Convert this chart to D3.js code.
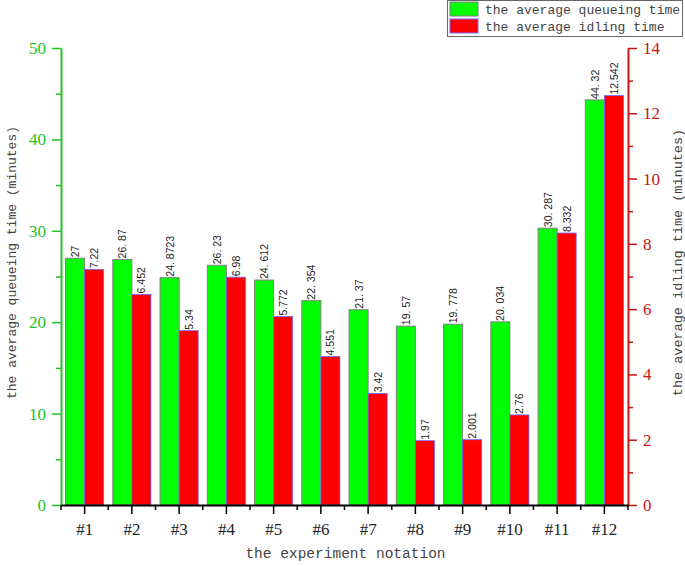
<!DOCTYPE html>
<html>
<head>
<meta charset="utf-8">
<script src="https://cdn.jsdelivr.net/npm/d3@7.9.0/dist/d3.min.js"></script>
<style>
  body { margin: 0; background: #fff; }
  svg { display: block; }
</style>
</head>
<body>
<svg width="685" height="566"></svg>
<script>
const experiments = ['#1','#2','#3','#4','#5','#6','#7','#8','#9','#10','#11','#12'];
const queueing = [27, 26.87, 24.8723, 26.23, 24.612, 22.354, 21.37, 19.57, 19.778, 20.034, 30.287, 44.32];
const idling = [7.22, 6.452, 5.34, 6.98, 5.772, 4.551, 3.42, 1.97, 2.001, 2.76, 8.332, 12.542];
const leftTicks = [0, 10, 20, 30, 40, 50];
const rightTicks = [0, 2, 4, 6, 8, 10, 12, 14];

const mono = '"Liberation Mono", "DejaVu Sans Mono", monospace';
const serif = '"Liberation Serif", "DejaVu Serif", serif';
const green = '#22c322', red = '#c81414';

const svg = d3.select('svg');
const plotL = 61, plotR = 628, plotT = 48, plotB = 505;

const x = d3.scaleBand().domain(experiments).range([plotL, plotR]).paddingInner(0).paddingOuter(0);
const xs = d3.scaleBand().domain(['q', 'i']).range([0, x.bandwidth()]).paddingInner(0).paddingOuter(0.24);
const yL = d3.scaleLinear().domain([0, 50]).range([plotB, plotT]);
const yR = d3.scaleLinear().domain([0, 14]).range([plotB, plotT]);

// bars
const g = svg.append('g');
experiments.forEach((e, i) => {
  const x0 = x(e);
  g.append('rect')
    .attr('x', x0 + xs('q')).attr('y', yL(queueing[i]))
    .attr('width', xs.bandwidth()).attr('height', plotB - yL(queueing[i]))
    .attr('fill', '#00ff00').attr('stroke', '#808080').attr('stroke-width', 1);
  g.append('rect')
    .attr('x', x0 + xs('i')).attr('y', yR(idling[i]))
    .attr('width', xs.bandwidth()).attr('height', plotB - yR(idling[i]))
    .attr('fill', '#ff0000').attr('stroke', '#6a6aff').attr('stroke-width', 0.8);

  const cq = x0 + xs('q') + xs.bandwidth() / 2;
  const ci = x0 + xs('i') + xs.bandwidth() / 2;
  g.append('text')
    .attr('transform', `translate(${cq + 4},${yL(queueing[i]) - 1}) rotate(-90)`)
    .attr('font-family', '"Liberation Sans Narrow", "Liberation Sans", Arial, sans-serif').attr('font-size', 10.5)
    .attr('fill', '#222')
    .text(String(queueing[i]).replace('.', '. '));
  g.append('text')
    .attr('transform', `translate(${ci + 4},${yR(idling[i]) - 1}) rotate(-90)`)
    .attr('font-family', '"Liberation Sans Narrow", "Liberation Sans", Arial, sans-serif').attr('font-size', 10.5)
    .attr('fill', '#222')
    .text(String(idling[i]));
});

// left axis
const minorL = d3.range(5, 50, 10);
svg.append('g').attr('transform', `translate(${plotL},0)`)
  .call(d3.axisLeft(yL).tickValues(minorL).tickSize(5).tickFormat(''))
  .call(a => a.select('.domain').remove())
  .selectAll('line').attr('stroke', green).attr('stroke-width', 1.5);
const axL = svg.append('g').attr('transform', `translate(${plotL},0)`)
  .call(d3.axisLeft(yL).tickValues(leftTicks).tickSize(9).tickSizeOuter(0).tickPadding(6));
axL.select('.domain').attr('stroke', green).attr('stroke-width', 2);
axL.selectAll('line').attr('stroke', green).attr('stroke-width', 1.5);
axL.selectAll('text').attr('fill', green).attr('font-family', serif).attr('font-size', 17);

// right axis
const minorR = d3.range(1, 14, 2);
svg.append('g').attr('transform', `translate(${plotR},0)`)
  .call(d3.axisRight(yR).tickValues(minorR).tickSize(5).tickFormat(''))
  .call(a => a.select('.domain').remove())
  .selectAll('line').attr('stroke', red).attr('stroke-width', 1.5);
const axR = svg.append('g').attr('transform', `translate(${plotR},0)`)
  .call(d3.axisRight(yR).tickValues(rightTicks).tickSize(9).tickSizeOuter(0).tickPadding(6));
axR.select('.domain').attr('stroke', red).attr('stroke-width', 2);
axR.selectAll('line').attr('stroke', red).attr('stroke-width', 1.5);
axR.selectAll('text').attr('fill', red).attr('font-family', serif).attr('font-size', 17);

// bottom axis
const bounds = experiments.map(e => x(e)).concat([plotR]);
svg.append('g').attr('transform', `translate(0,${plotB})`)
  .selectAll('line').data(bounds).join('line')
  .attr('x1', d => d).attr('x2', d => d).attr('y1', 0).attr('y2', 5)
  .attr('stroke', '#000').attr('stroke-width', 1.5);
const axB = svg.append('g').attr('transform', `translate(0,${plotB})`)
  .call(d3.axisBottom(x).tickSize(9).tickSizeOuter(0).tickPadding(9));
axB.select('.domain').attr('stroke', '#000').attr('stroke-width', 2);
axB.selectAll('line').attr('stroke', '#000').attr('stroke-width', 1.5);
axB.selectAll('text').attr('fill', '#222').attr('font-family', serif).attr('font-size', 17);

// axis titles
svg.append('text').attr('x', (plotL + plotR) / 2 + 1).attr('y', 558)
  .attr('text-anchor', 'middle').attr('font-family', mono).attr('font-size', 14.5)
  .attr('fill', '#444').text('the experiment notation');
svg.append('text').attr('transform', `translate(16,${(plotT + plotB) / 2 - 14}) rotate(-90)`)
  .attr('text-anchor', 'middle').attr('font-family', mono).attr('font-size', 13)
  .attr('fill', '#444').text('the average queueing time (minutes)');
svg.append('text').attr('transform', `translate(682,${(plotT + plotB) / 2 - 14}) rotate(-90)`)
  .attr('text-anchor', 'middle').attr('font-family', mono).attr('font-size', 13.5)
  .attr('fill', '#444').text('the average idling time (minutes)');

// legend
const leg = svg.append('g');
leg.append('rect').attr('x', 447.5).attr('y', 0.5).attr('width', 235).attr('height', 36)
  .attr('fill', '#fff').attr('stroke', '#666').attr('stroke-width', 1);
const legItems = [
  { label: 'the average queueing time', fill: '#00ff00', stroke: '#808080' },
  { label: 'the average idling time', fill: '#ff0000', stroke: '#6a6aff' }
];
legItems.forEach((d, i) => {
  leg.append('rect').attr('x', 450).attr('y', 2 + i * 17).attr('width', 28).attr('height', 14)
    .attr('fill', d.fill).attr('stroke', d.stroke);
  leg.append('text').attr('x', 485).attr('y', 14 + i * 17)
    .attr('font-family', mono).attr('font-size', 13).attr('fill', '#444').text(d.label);
});
</script>
</body>
</html>
